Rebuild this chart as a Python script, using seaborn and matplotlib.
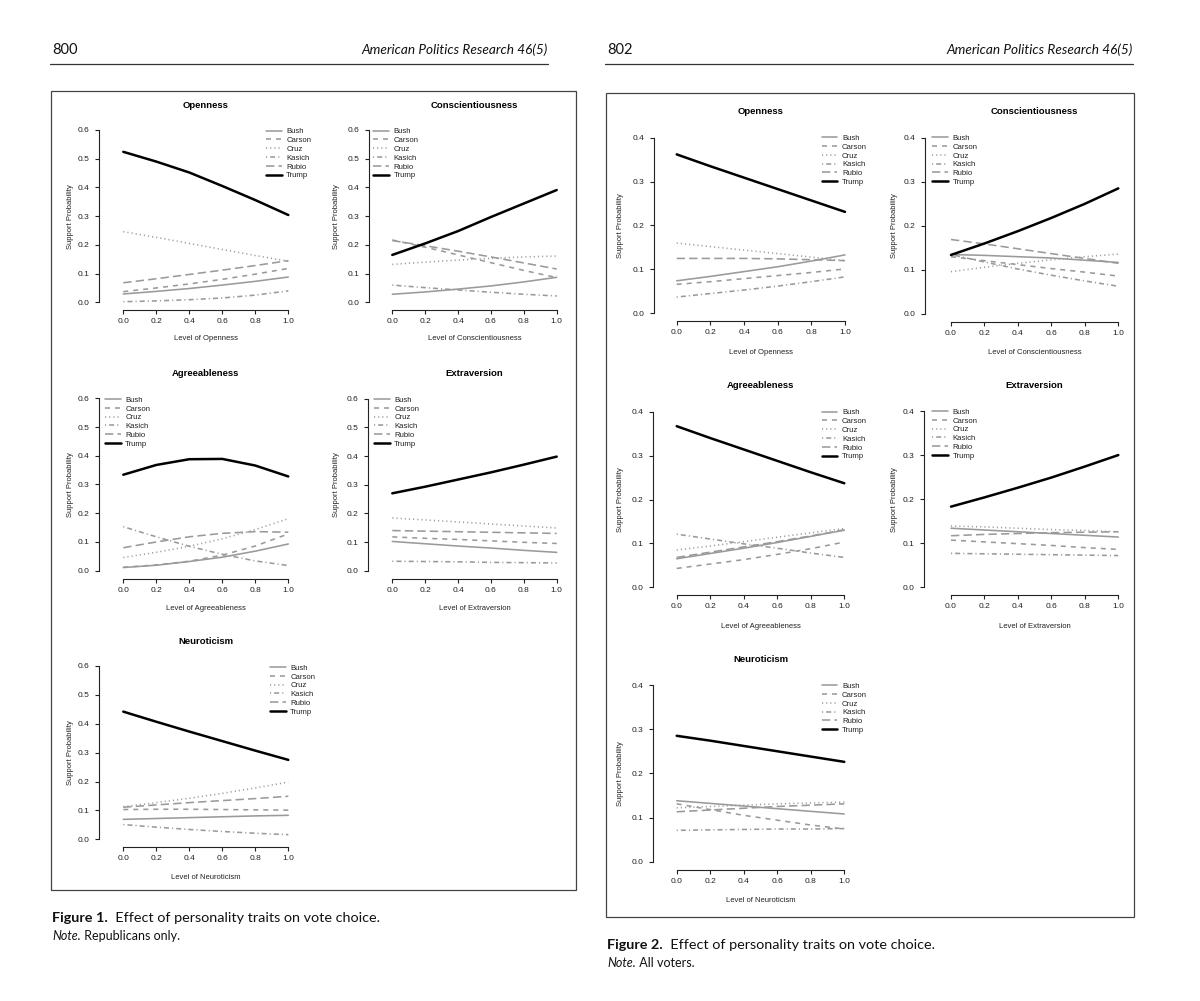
import numpy as np
import pandas as pd
import matplotlib
matplotlib.use("Agg")
import matplotlib.pyplot as plt
import seaborn as sns
from matplotlib.patches import Rectangle
from matplotlib.lines import Line2D

# ---------------- data ----------------
x_levels = [0.0, 0.2, 0.4, 0.6, 0.8, 1.0]
candidates = ["Bush", "Carson", "Cruz", "Kasich", "Rubio", "Trump"]
traits = ["Openness", "Conscientiousness", "Agreeableness", "Extraversion", "Neuroticism"]
x_tick_labels = ["0.0", "0.2", "0.4", "0.6", "0.8", "1.0"]
fig1_y_ticks = [0.0, 0.1, 0.2, 0.3, 0.4, 0.5, 0.6]
fig2_y_ticks = [0.0, 0.1, 0.2, 0.3, 0.4]

# Figure 1: Republicans only
f1_openness = {
    "Bush":   [0.029, 0.038, 0.048, 0.060, 0.073, 0.088],
    "Carson": [0.037, 0.050, 0.064, 0.080, 0.098, 0.118],
    "Cruz":   [0.246, 0.226, 0.205, 0.184, 0.163, 0.143],
    "Kasich": [0.002, 0.005, 0.009, 0.015, 0.025, 0.040],
    "Rubio":  [0.068, 0.082, 0.097, 0.112, 0.128, 0.145],
    "Trump":  [0.524, 0.490, 0.452, 0.405, 0.356, 0.304],
}
f1_conscientiousness = {
    "Bush":   [0.028, 0.036, 0.046, 0.057, 0.071, 0.087],
    "Carson": [0.217, 0.192, 0.165, 0.138, 0.111, 0.086],
    "Cruz":   [0.132, 0.140, 0.147, 0.153, 0.158, 0.161],
    "Kasich": [0.060, 0.051, 0.043, 0.035, 0.028, 0.022],
    "Rubio":  [0.215, 0.197, 0.178, 0.158, 0.137, 0.116],
    "Trump":  [0.165, 0.205, 0.248, 0.297, 0.344, 0.391],
}
f1_agreeableness = {
    "Bush":   [0.011, 0.019, 0.032, 0.047, 0.068, 0.093],
    "Carson": [0.012, 0.020, 0.033, 0.054, 0.086, 0.128],
    "Cruz":   [0.046, 0.064, 0.085, 0.111, 0.143, 0.181],
    "Kasich": [0.153, 0.118, 0.085, 0.057, 0.034, 0.018],
    "Rubio":  [0.080, 0.100, 0.118, 0.130, 0.136, 0.134],
    "Trump":  [0.334, 0.368, 0.388, 0.389, 0.366, 0.328],
}
f1_extraversion = {
    "Bush":   [0.102, 0.094, 0.086, 0.079, 0.071, 0.064],
    "Carson": [0.118, 0.113, 0.109, 0.104, 0.099, 0.095],
    "Cruz":   [0.184, 0.177, 0.170, 0.163, 0.156, 0.149],
    "Kasich": [0.033, 0.032, 0.031, 0.029, 0.028, 0.027],
    "Rubio":  [0.140, 0.138, 0.136, 0.134, 0.132, 0.130],
    "Trump":  [0.270, 0.293, 0.318, 0.343, 0.370, 0.398],
}
f1_neuroticism = {
    "Bush":   [0.069, 0.072, 0.075, 0.078, 0.081, 0.083],
    "Carson": [0.103, 0.104, 0.104, 0.103, 0.102, 0.101],
    "Cruz":   [0.113, 0.127, 0.142, 0.159, 0.178, 0.198],
    "Kasich": [0.051, 0.042, 0.034, 0.027, 0.021, 0.016],
    "Rubio":  [0.111, 0.119, 0.127, 0.134, 0.141, 0.149],
    "Trump":  [0.442, 0.407, 0.373, 0.340, 0.307, 0.275],
}

# Figure 2: All voters
f2_openness = {
    "Bush":   [0.074, 0.084, 0.095, 0.106, 0.119, 0.133],
    "Carson": [0.066, 0.072, 0.079, 0.086, 0.093, 0.101],
    "Cruz":   [0.160, 0.152, 0.144, 0.136, 0.128, 0.120],
    "Kasich": [0.037, 0.045, 0.053, 0.062, 0.072, 0.083],
    "Rubio":  [0.125, 0.125, 0.125, 0.124, 0.122, 0.120],
    "Trump":  [0.362, 0.335, 0.309, 0.283, 0.257, 0.231],
}
f2_conscientiousness = {
    "Bush":   [0.135, 0.133, 0.130, 0.127, 0.122, 0.117],
    "Carson": [0.130, 0.121, 0.112, 0.103, 0.095, 0.086],
    "Cruz":   [0.096, 0.106, 0.115, 0.123, 0.130, 0.136],
    "Kasich": [0.135, 0.118, 0.102, 0.088, 0.075, 0.063],
    "Rubio":  [0.169, 0.159, 0.148, 0.137, 0.126, 0.115],
    "Trump":  [0.134, 0.160, 0.188, 0.218, 0.250, 0.285],
}
f2_agreeableness = {
    "Bush":   [0.065, 0.077, 0.089, 0.102, 0.116, 0.130],
    "Carson": [0.043, 0.053, 0.063, 0.075, 0.088, 0.103],
    "Cruz":   [0.085, 0.094, 0.104, 0.114, 0.124, 0.134],
    "Kasich": [0.121, 0.110, 0.099, 0.089, 0.078, 0.068],
    "Rubio":  [0.068, 0.080, 0.092, 0.104, 0.117, 0.131],
    "Trump":  [0.367, 0.340, 0.314, 0.288, 0.262, 0.237],
}
f2_extraversion = {
    "Bush":   [0.134, 0.130, 0.126, 0.122, 0.118, 0.114],
    "Carson": [0.107, 0.103, 0.099, 0.095, 0.090, 0.086],
    "Cruz":   [0.139, 0.137, 0.134, 0.131, 0.129, 0.126],
    "Kasich": [0.077, 0.076, 0.075, 0.074, 0.073, 0.072],
    "Rubio":  [0.117, 0.120, 0.122, 0.124, 0.125, 0.126],
    "Trump":  [0.183, 0.204, 0.226, 0.249, 0.274, 0.300],
}
f2_neuroticism = {
    "Bush":   [0.138, 0.132, 0.126, 0.120, 0.114, 0.108],
    "Carson": [0.131, 0.118, 0.105, 0.094, 0.083, 0.074],
    "Cruz":   [0.122, 0.125, 0.128, 0.131, 0.133, 0.135],
    "Kasich": [0.071, 0.072, 0.073, 0.074, 0.074, 0.075],
    "Rubio":  [0.113, 0.117, 0.121, 0.125, 0.128, 0.131],
    "Trump":  [0.285, 0.274, 0.262, 0.250, 0.238, 0.226],
}

# ---------------- style ----------------
sns.set_theme(style="white")
plt.rcParams["font.family"] = ["Liberation Sans", "DejaVu Sans"]
plt.rcParams["lines.scale_dashes"] = False

W, H = 1200, 1001
fig = plt.figure(figsize=(W / 100, H / 100), dpi=100)
fig.patch.set_facecolor("white")

GRAY = "#9a9a9a"
AXC = "#222222"
line_styles = {
    "Bush":   dict(color=GRAY, linewidth=1.15, linestyle="-"),
    "Carson": dict(color=GRAY, linewidth=1.15, linestyle=(0, (3.6, 3.6))),
    "Cruz":   dict(color=GRAY, linewidth=1.15, linestyle=(0, (0.8, 2.2))),
    "Kasich": dict(color=GRAY, linewidth=1.15, linestyle=(0, (0.8, 2.2, 3.6, 2.2))),
    "Rubio":  dict(color=GRAY, linewidth=1.15, linestyle=(0, (6.0, 3.0))),
    "Trump":  dict(color="black", linewidth=1.8, linestyle="-"),
}


def fx(px):
    return px / W


def fy(py):
    return 1 - py / H


def draw_panel(data, trait, yticks, geom):
    x0, x1, y0, ytop, spine_x, title_y, xlabel_y, ylabel_x, leg_x, leg_y = geom
    ymax = yticks[-1]
    sx = x1 - x0
    sy = (y0 - ytop) / ymax
    left = x0 - 0.04 * sx
    right = x1 + 0.04 * sx
    bottom = y0 + 0.04 * ymax * sy
    top = ytop - 0.04 * ymax * sy
    ax = fig.add_axes([fx(left), fy(bottom), (right - left) / W, (bottom - top) / H])
    ax.patch.set_visible(False)
    for c in candidates:
        df = pd.DataFrame({"x": x_levels, "y": data[c]})
        sns.lineplot(data=df, x="x", y="y", ax=ax, legend=False, errorbar=None,
                     **line_styles[c])
    ax.set_xlim(-0.04, 1.04)
    ax.set_ylim(-0.04 * ymax, 1.04 * ymax)
    ax.set_xlabel("")
    ax.set_ylabel("")
    ax.set_xticks(x_levels, x_tick_labels)
    ax.set_yticks(yticks, [f"{v:.1f}" for v in yticks], rotation=90, va="center")
    ax.tick_params(axis="both", length=3, width=0.8, labelsize=6.0, colors=AXC,
                   left=True, bottom=True)
    ax.tick_params(axis="x", pad=2.8)
    ax.tick_params(axis="y", pad=3.8)
    for s in ["top", "right"]:
        ax.spines[s].set_visible(False)
    for s in ["left", "bottom"]:
        ax.spines[s].set_color(AXC)
        ax.spines[s].set_linewidth(0.8)
    ax.spines["left"].set_bounds(0, ymax)
    ax.spines["bottom"].set_bounds(0, 1)
    ax.spines["left"].set_position(("outward", (left - spine_x) * 0.72))
    ax.spines["bottom"].set_position(("outward", 0.7))
    cx = (left + right) / 2
    cy = (top + bottom) / 2
    fig.text(fx(cx), fy(title_y), trait, ha="center", va="center",
             fontsize=6.8, fontweight="bold", color="black")
    fig.text(fx(cx), fy(xlabel_y), f"Level of {trait}", ha="center", va="center",
             fontsize=5.5, color=AXC)
    fig.text(fx(ylabel_x), fy(cy), "Support Probability", ha="center", va="center",
             rotation=90, fontsize=5.5, color=AXC)
    leg = ax.legend(handles=ax.lines[:len(candidates)], labels=candidates,
                    loc="upper left", bbox_to_anchor=(fx(leg_x), fy(leg_y - 4.3)),
                    bbox_transform=fig.transFigure, frameon=False, fontsize=5.6,
                    handlelength=2.0, handletextpad=0.6, labelspacing=0.17,
                    borderpad=0, borderaxespad=0)
    for t in leg.get_texts():
        t.set_color(AXC)
    return ax


# geometry in pixels: x0, x1, y0, ytop, spine_x, title_y, xlabel_y, ylabel_x, leg_x, leg_y
geom1 = [
    (123.3, 288.3, 302.3, 130.0, 99.3, 105.0, 339.0, 70.0, 266.0, 132.3),
    (392.3, 556.7, 302.3, 130.0, 368.7, 105.0, 338.5, 336.7, 373.3, 132.3),
    (123.3, 288.3, 570.7, 398.3, 99.3, 373.3, 608.3, 70.0, 105.0, 400.7),
    (392.3, 556.7, 570.7, 398.7, 368.3, 373.3, 608.3, 336.7, 374.0, 400.7),
    (123.3, 288.3, 839.3, 666.0, 99.3, 641.7, 877.7, 70.0, 270.0, 668.7),
]
geom2 = [
    (676.7, 845.0, 313.3, 137.7, 654.3, 111.7, 352.7, 620.0, 821.7, 139.0),
    (951.0, 1118.3, 314.0, 137.7, 925.0, 111.7, 352.3, 895.0, 932.3, 139.0),
    (676.7, 844.3, 587.3, 411.7, 653.3, 385.0, 626.7, 620.0, 821.7, 413.3),
    (951.0, 1118.3, 587.3, 411.0, 924.3, 385.0, 626.7, 894.0, 932.3, 412.7),
    (676.7, 844.3, 861.7, 685.0, 653.3, 660.0, 901.0, 620.0, 821.7, 687.0),
]
fig1_data = [f1_openness, f1_conscientiousness, f1_agreeableness, f1_extraversion, f1_neuroticism]
fig2_data = [f2_openness, f2_conscientiousness, f2_agreeableness, f2_extraversion, f2_neuroticism]

for d, t, g in zip(fig1_data, traits, geom1):
    draw_panel(d, t, fig1_y_ticks, g)
for d, t, g in zip(fig2_data, traits, geom2):
    draw_panel(d, t, fig2_y_ticks, g)

# ---------------- page decorations ----------------
def frame(x0, y0, x1, y1):
    fig.add_artist(Rectangle((fx(x0), fy(y1)), (x1 - x0) / W, (y1 - y0) / H,
                             transform=fig.transFigure, fill=False,
                             lw=0.9, ec="#444444"))

frame(51, 91, 576, 890)
frame(606, 93, 1134, 917)

PAGE_FONT = ["Lato", "Open Sans", "DejaVu Sans"]
for (xl, xr, num) in [(50, 548, "800"), (605, 1133, "802")]:
    fig.text(fx(xl + 2), fy(50), num, ha="left", va="center", fontsize=10.5,
             family=PAGE_FONT, color="#111111")
    fig.text(fx(xr), fy(50), "American Politics Research 46(5)", ha="right",
             va="center", fontsize=9.8, style="italic", family=PAGE_FONT,
             color="#111111")
    fig.add_artist(Line2D([fx(xl), fx(xr)], [fy(64), fy(64)],
                          transform=fig.transFigure, lw=0.9, color="#333333"))

renderer = fig.canvas.get_renderer()


def two_part(x, y, first, first_kw, second, second_kw):
    t1 = fig.text(fx(x), fy(y), first, ha="left", va="center", family=PAGE_FONT,
                  color="#111111", **first_kw)
    bb = t1.get_window_extent(renderer=renderer)
    fig.text(bb.x1 / W, fy(y), second, ha="left", va="center", family=PAGE_FONT,
             color="#111111", **second_kw)


two_part(52, 918, "Figure 1.", dict(fontsize=10.4, fontweight="bold"),
         "  Effect of personality traits on vote choice.", dict(fontsize=10.4))
two_part(52, 936, "Note.", dict(fontsize=9, style="italic"),
         " Republicans only.", dict(fontsize=9))
two_part(607, 945, "Figure 2.", dict(fontsize=10.4, fontweight="bold"),
         "  Effect of personality traits on vote choice.", dict(fontsize=10.4))
two_part(607, 963, "Note.", dict(fontsize=9, style="italic"),
         " All voters.", dict(fontsize=9))

fig.savefig("out.png", dpi=100, facecolor="white")
